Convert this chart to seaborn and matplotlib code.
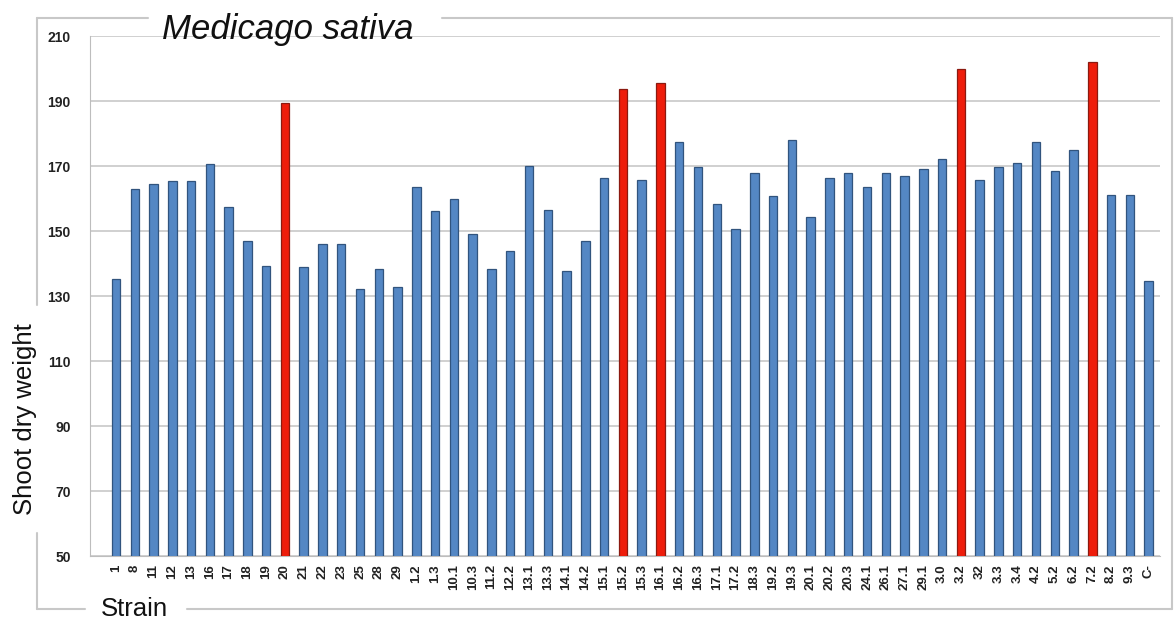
import matplotlib
matplotlib.use("Agg")
import matplotlib.pyplot as plt
from matplotlib.lines import Line2D
import seaborn as sns

strains = ['1', '8', '11', '12', '13', '16', '17', '18', '19', '20',
           '21', '22', '23', '25', '28', '29', '1.2', '1.3', '10.1', '10.3',
           '11.2', '12.2', '13.1', '13.3', '14.1', '14.2', '15.1', '15.2', '15.3', '16.1',
           '16.2', '16.3', '17.1', '17.2', '18.3', '19.2', '19.3', '20.1', '20.2', '20.3',
           '24.1', '26.1', '27.1', '29.1', '3.0', '3.2', '32', '3.3', '3.4', '4.2',
           '5.2', '6.2', '7.2', '8.2', '9.3', 'C-']
weights = [135.4, 162.9, 164.5, 165.3, 165.5, 170.7, 157.4, 146.8, 139.4, 189.4,
           139.0, 146.0, 146.0, 132.2, 138.2, 132.7, 163.7, 156.3, 160.0, 149.1,
           138.2, 144.0, 170.0, 156.6, 137.7, 146.8, 166.3, 193.8, 165.8, 195.5,
           177.3, 169.7, 158.4, 150.5, 167.8, 160.9, 178.1, 154.2, 166.3, 168.0,
           163.5, 168.0, 167.0, 169.2, 172.2, 199.8, 165.6, 169.7, 171.0, 177.4,
           168.6, 174.9, 201.9, 161.0, 161.0, 134.6]
highlighted = ['20', '15.2', '16.1', '3.2', '7.2']

blue = '#5487c4'
red = '#ee1d0b'
palette = {s: (red if s in highlighted else blue) for s in strains}

sns.set_style("white")
plt.rcParams['font.family'] = ['Liberation Sans', 'DejaVu Sans']

fig = plt.figure(figsize=(11.74, 6.23), dpi=100)
ax = fig.add_axes([0.0767, 0.1075, 0.9113, 0.8345])

sns.barplot(x=strains, y=weights, hue=strains, palette=palette, legend=False,
            width=0.45, saturation=1, ax=ax, zorder=3)
for bar, s in zip(ax.patches, strains):
    bar.set_edgecolor('#8b1a10' if s in highlighted else '#31547e')
    bar.set_linewidth(0.9)

ax.set_ylim(50, 210)
ax.set_xlim(-1.38, 55.6)
ax.set_yticks(range(50, 211, 20))
ax.yaxis.grid(True, color='#c8c8c8', linewidth=1.2, zorder=0)
ax.set_axisbelow(True)
for side in ['top', 'right']:
    ax.spines[side].set_visible(False)
ax.spines['left'].set_color('#bdbdbd')
ax.spines['bottom'].set_color('#bdbdbd')
ax.tick_params(axis='y', labelsize=10, colors='#222222', length=0, pad=14)
ax.tick_params(axis='x', labelsize=9.5, colors='#222222', length=3,
               color='#bdbdbd', rotation=90, pad=3)
for lbl in ax.get_xticklabels() + ax.get_yticklabels():
    lbl.set_fontweight('bold')
ax.set_xlabel('')
ax.set_ylabel('')

# labels placed on the outer frame, like the original
fig.text(288 / 1174, 1 - 29 / 623, 'Medicago sativa', fontsize=25, style='italic',
         ha='center', va='center', color='#111111')
fig.text(25 / 1174, 1 - 419 / 623, 'Shoot dry weight', fontsize=18.5, rotation=90,
         ha='center', va='center', color='#111111')
fig.text(134 / 1174, 1 - 609 / 623, 'Strain', fontsize=18.5,
         ha='center', va='center', color='#111111')

# outer frame with gaps for the texts
frame = '#c8c8c8'
def seg(x0, y0, x1, y1):
    fig.add_artist(Line2D([x0 / 1174, x1 / 1174], [1 - y0 / 623, 1 - y1 / 623],
                          color=frame, linewidth=1.5))
seg(37, 18, 148, 18)
seg(442, 18, 1172, 18)
seg(1172, 18, 1172, 609)
seg(37, 18, 37, 305)
seg(37, 533, 37, 609)
seg(37, 609, 85, 609)
seg(187, 609, 1172, 609)

fig.savefig('out.png', dpi=100)
